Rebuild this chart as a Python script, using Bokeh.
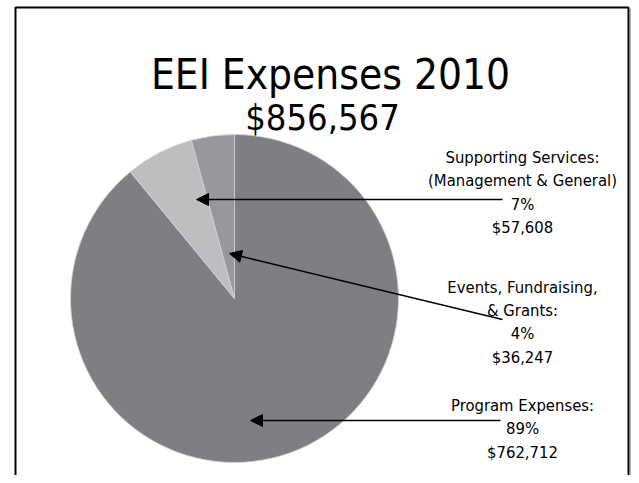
import numpy as np
from bokeh.plotting import figure
from bokeh.models import Range1d, Arrow, NormalHead, ColumnDataSource
from bokeh.core.properties import value
from bokeh.embed import file_html
from bokeh.resources import INLINE

# ---------------- data ----------------
title_text = "EEI Expenses 2010"
categories = ["Program Expenses", "Supporting Services", "Events, Fundraising, & Grants"]
amounts = [762712, 57608, 36247]
slice_colors = ["#7e7f83", "#bdbec0", "#97989c"]
label_lines = [
    ["Program Expenses:"],
    ["Supporting Services:", "(Management & General)"],
    ["Events, Fundraising,", "& Grants:"],
]

FONT = "DejaVu Sans Condensed, Liberation Sans, sans-serif"

total = sum(amounts)
fracs = np.array(amounts, dtype=float) / total
cum = np.concatenate([[0.0], np.cumsum(fracs)])
start_angles = np.pi / 2 - cum[:-1] * 2 * np.pi
end_angles = np.pi / 2 - cum[1:] * 2 * np.pi

W, H = 631, 475

def sy(y):
    return H - y

p = figure(width=W, height=H, x_range=Range1d(0, W), y_range=Range1d(0, H),
           output_backend="svg", toolbar_location=None, min_border=0,
           x_axis_type=None, y_axis_type=None)
p.grid.visible = False
p.outline_line_color = None
p.background_fill_color = "white"
p.border_fill_color = "white"

# frame border
p.line([15, 15, 628, 628], [sy(500), sy(7), sy(7), sy(500)], line_color="black", line_width=2)
p.line([630.5, 630.5], [sy(8), sy(500)], line_color="#9a9a9a", line_width=1.5)

# pie
cx, cy, r = 234, sy(298), 164
src = ColumnDataSource(dict(start=start_angles, end=end_angles, color=slice_colors, cat=categories))
p.wedge(x=cx, y=cy, radius=r, start_angle="start", end_angle="end", direction="clock",
        fill_color="color", line_color="#d4d4d6", line_width=0.8, source=src)

# title
p.text(x=[330], y=[sy(74)], text=[title_text], text_font=value(FONT), text_font_size="42px",
       text_align="center", text_baseline="alphabetic", text_color="black")
p.text(x=[322], y=[sy(117)], text=["${:,}".format(total)], text_font=value(FONT), text_font_size="36px",
       text_align="center", text_baseline="alphabetic", text_color="black")

# labels
label_baselines = [[405, 428, 452], [157, 180, 204, 227], [287, 310, 333, 357]]
lx, ly, lt = [], [], []
for i in range(len(categories)):
    lines = label_lines[i] + ["{}%".format(int(round(fracs[i] * 100))), "${:,}".format(amounts[i])]
    for t, b in zip(lines, label_baselines[i]):
        lx.append(522)
        ly.append(sy(b))
        lt.append(t)
p.text(x=lx, y=ly, text=lt, text_font=value(FONT), text_font_size="16.5px",
       text_align="center", text_baseline="alphabetic", text_color="black")

# arrows (tail -> tip)
arrows = [((500, 420), (250, 420)), ((502, 199), (196, 199)), ((502, 319), (229, 253))]
for (x0, y0), (x1, y1) in arrows:
    p.add_layout(Arrow(end=NormalHead(size=12, fill_color="black", line_color="black", line_width=1),
                       x_start=x0, y_start=sy(y0), x_end=x1, y_end=sy(y1),
                       line_color="black", line_width=1.5))

open("out.html", "w").write(file_html(p, INLINE))
